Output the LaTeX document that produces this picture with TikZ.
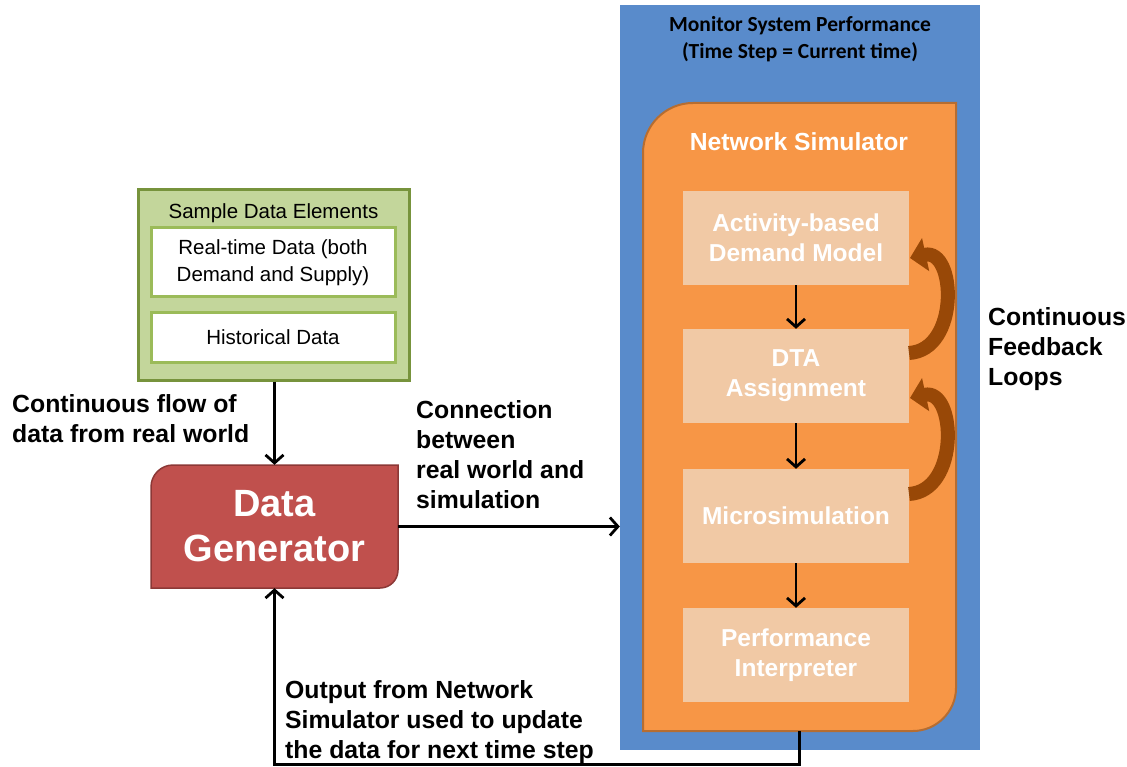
\documentclass[tikz,border=0pt]{standalone}
\usepackage{fontspec}
\setmainfont{Liberation Sans}
\newfontfamily\calib{Carlito}
\usetikzlibrary{arrows.meta}
\definecolor{bluebg}{RGB}{89,139,203}
\definecolor{orangebg}{RGB}{247,150,70}
\definecolor{orangeedge}{RGB}{182,109,49}
\definecolor{peach}{RGB}{241,201,165}
\definecolor{greenfill}{RGB}{195,214,155}
\definecolor{greenedge}{RGB}{119,147,60}
\definecolor{greenin}{RGB}{155,187,89}
\definecolor{redfill}{RGB}{192,80,77}
\definecolor{rededge}{RGB}{140,56,54}
\definecolor{brownarrow}{RGB}{152,72,7}
\begin{document}
\begin{tikzpicture}[x=1pt,y=-1pt,
  conn/.style={line width=2.8pt, -{Straight Barb[length=8pt,width=18pt]}},
  lbl/.style={anchor=base west, align=left, inner sep=0pt, font=\bfseries\fontsize{24.8}{30}\selectfont},
  simbox/.style={fill=peach, minimum width=226pt, minimum height=94pt, inner sep=0pt, align=center, text=white, font=\bfseries\fontsize{24.5}{30}\selectfont},
  whitebox/.style={fill=white, draw=greenin, line width=3pt, minimum width=244pt, inner sep=0pt, align=center, font=\fontsize{20.5}{27}\selectfont},
  fbarrow/.style={draw=brownarrow, line width=14pt, -{Triangle[length=16pt,width=33pt]}}
]
\useasboundingbox (0,0) rectangle (1127,767);
\fill[white] (0,0) rectangle (1127,767);

% Monitor (blue) box
\node (mon) [fill=bluebg, minimum width=360pt, minimum height=745pt, inner sep=0pt] at (800,377.5) {};
\node (title) [anchor=base, align=center, inner sep=0pt, font=\calib\bfseries\fontsize{21.5}{27}\selectfont] at (800,59) {Monitor System Performance\\(Time Step = Current time)};

% Network simulator (orange) box
\node (ns) [minimum width=313pt, minimum height=628pt, inner sep=0pt] at (799.5,417) {};
\path[fill=orangebg, draw=orangeedge, line width=2pt]
  (643,731) -- (643,153) .. controls (643,125.4) and (665.4,103) .. (693,103)
  -- (956,103) -- (956,688) .. controls (956,711.7) and (936.3,731) .. (913,731) -- cycle;
\node (nstitle) [anchor=base, text=white, inner sep=0pt, font=\bfseries\fontsize{24.7}{30}\selectfont] at (799,151) {Network Simulator};

% inner boxes
\node (act) [simbox] at (796,238) {Activity-based\\Demand Model};
\node (dta) [simbox] at (796,376) {DTA\\Assignment};
\node (mic) [simbox] at (796,516) {Microsimulation};
\node (perf) [simbox] at (796,655) {Performance\\Interpreter};

\draw[conn] (act.south) -- (dta.north);
\draw[conn] (dta.south) -- (mic.north);
\draw[conn] (mic.south) -- (perf.north);

% feedback arrows
\coordinate (fb1s) at (909,353);
\coordinate (fb1e) at (910,258);
\coordinate (fb2s) at (909,494);
\coordinate (fb2e) at (910,398);
\draw[fbarrow] (fb1s) .. controls (960,350) and (956,248) .. (fb1e);
\draw[fbarrow] (fb2s) .. controls (960,491) and (956,388) .. (fb2e);
\node (fblbl) [lbl] at (988,385) {Continuous\\Feedback\\Loops};

% Sample data elements (green)
\node (green) [fill=greenfill, draw=greenedge, line width=3pt, minimum width=271pt, minimum height=190pt, inner sep=0pt] at (273.5,285) {};
\node (gtitle) [anchor=base, inner sep=0pt, font=\fontsize{20.5}{27}\selectfont] at (273.5,219) {Sample Data Elements};
\node (rt) [whitebox, minimum height=69pt] at (273,262.5) {Real-time Data (both\\Demand and Supply)};
\node (hist) [whitebox, minimum height=49pt] at (273,337.5) {Historical Data};

% Data generator
\node (dg) [minimum width=247pt, minimum height=123pt, inner sep=0pt] at (274.5,526.5) {};
\path[fill=redfill, draw=rededge, line width=1.5pt]
  (151,588) -- (151,487) .. controls (151,474.9) and (160.9,465) .. (173,465)
  -- (398,465) -- (398,570) .. controls (398,580) and (390,588) .. (380,588) -- cycle;
\node (dgtext) [align=center, text=white, inner sep=0pt, font=\bfseries\fontsize{38}{45}\selectfont] at (dg.center) {Data\\Generator};

% connectors
\draw[conn] (green.south -| dg.north) -- (dg.north);
\draw[conn] (dg.east) -- (dg.east -| mon.west);
\draw[conn] (ns.south) -- ++(0,33) -| (dg.south);

% labels
\node (lbl1) [lbl] at (12,442) {Continuous flow of\\data from real world};
\node (lbl2) [lbl] at (416,508) {Connection\\between\\real world and\\simulation};
\node (lbl3) [lbl] at (285,758) {Output from Network\\Simulator used to update\\the data for next time step};
\end{tikzpicture}
\end{document}
